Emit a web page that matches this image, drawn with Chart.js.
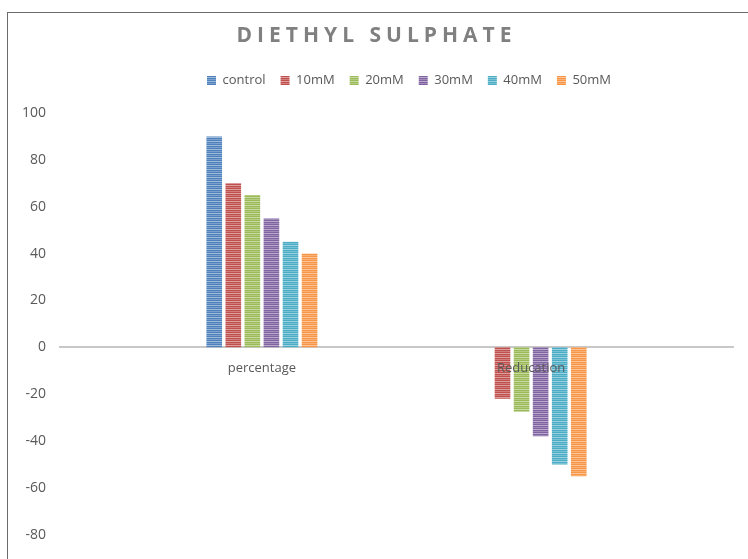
<!DOCTYPE html>
<html>
<head>
<meta charset="utf-8">
<script src="https://cdn.jsdelivr.net/npm/chart.js@4.4.1/dist/chart.umd.min.js"></script>
<style>
  html, body { margin: 0; padding: 0; background: #fff; overflow: hidden; }
  #wrap { position: relative; width: 748px; height: 559px; overflow: hidden; }
  #frame { position: absolute; left: 7px; top: 12px; width: 800px; height: 700px; border: 1px solid #6b6b6b; }
  #chart { position: absolute; left: 0; top: 0; }
</style>
</head>
<body>
<div id="wrap">
  <div id="frame"></div>
  <canvas id="chart" width="748" height="604"></canvas>
</div>
<script>
// dados
const titulo = 'DIETHYL SULPHATE';
const categorias = ['percentage', 'Reducation'];
const series = ['control', '10mM', '20mM', '30mM', '40mM', '50mM'];
const cores = ['#4F81BD', '#C0504D', '#9BBB59', '#8064A2', '#4BACC6', '#F79646'];
const percentage = [90, 70, 65, 55, 45, 40];
const reducation = [null, -22, -27.5, -38, -50, -55];
const yMin = -100;
const yMax = 100;
const yPasso = 20;

// listras horizontais como no Excel
function listrado(cor) {
  const c = document.createElement('canvas');
  c.width = 4; c.height = 4;
  const g = c.getContext('2d');
  g.fillStyle = cor;
  g.fillRect(0, 0, 4, 4);
  g.fillStyle = 'rgba(255,255,255,0.45)';
  g.fillRect(0, 1, 4, 1);
  g.fillStyle = 'rgba(255,255,255,0.25)';
  g.fillRect(0, 3, 4, 1);
  return g.createPattern(c, 'repeat');
}

// eixo com 5 posições para deixar os grupos em 30% e 70% da largura
const rotulos = ['', categorias[0], '', categorias[1], ''];

const datasets = series.map(function(nome, i) {
  return {
    label: nome,
    data: [null, percentage[i], null, reducation[i], null],
    backgroundColor: listrado(cores[i]),
    borderWidth: 0,
    categoryPercentage: 0.85,
    barPercentage: 0.82
  };
});

const tituloPlugin = {
  id: 'tituloPlugin',
  afterDraw(chart) {
    const ctx = chart.ctx;
    ctx.save();
    ctx.font = 'bold 21px "Open Sans"';
    ctx.letterSpacing = '5px';
    ctx.fillStyle = '#808080';
    ctx.textAlign = 'center';
    ctx.textBaseline = 'middle';
    ctx.fillText(titulo, 376.5, 36);
    ctx.restore();
  }
};

// ajusta a posição da legenda como no original
const legendaPlugin = {
  id: 'legendaPlugin',
  afterLayout(chart) {
    if (chart.legend) {
      chart.legend.left += 35;
      chart.legend.right += 35;
      chart.legend.top -= 16;
      chart.legend.bottom -= 16;
    }
  }
};

const ctx = document.getElementById('chart').getContext('2d');
const grafico = new Chart(ctx, {
  type: 'bar',
  data: { labels: rotulos, datasets: datasets },
  plugins: [tituloPlugin, legendaPlugin],
  options: {
    responsive: false,
    animation: false,
    layout: { padding: { top: 75, left: 15, right: 15, bottom: 10 } },
    plugins: {
      title: { display: false },
      tooltip: { enabled: false },
      legend: {
        position: 'top',
        labels: {
          boxWidth: 9,
          boxHeight: 9,
          padding: 15,
          color: '#595959',
          font: { family: '"Open Sans"', size: 13 }
        }
      }
    },
    scales: {
      x: {
        position: { y: 0 },
        grid: { display: false, drawTicks: false },
        border: { color: '#c8c8c8', width: 2 },
        ticks: {
          z: 1,
          color: '#595959',
          padding: 13,
          maxRotation: 0,
          autoSkip: false,
          font: { family: '"Open Sans"', size: 13 }
        }
      },
      y: {
        min: yMin,
        max: yMax,
        grid: { display: false, drawTicks: false },
        border: { display: false },
        ticks: {
          stepSize: yPasso,
          padding: 14,
          color: '#595959',
          font: { family: '"Open Sans"', size: 14 }
        },
        afterFit(scale) { scale.width = 45; }
      }
    }
  }
});
</script>
</body>
</html>
